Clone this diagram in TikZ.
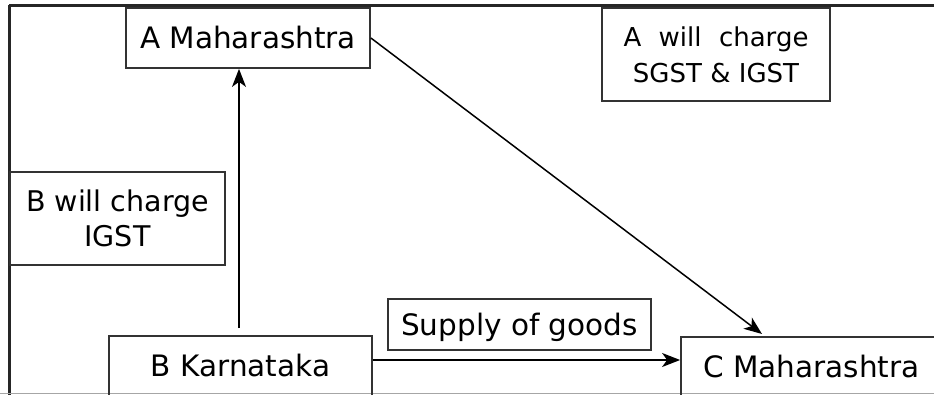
\documentclass[tikz,border=0pt]{standalone}
\usepackage{fontspec}
\setmainfont{DejaVu Sans}
\usetikzlibrary{arrows.meta}
\begin{document}
\begin{tikzpicture}[x=1pt,y=-1pt,
  box/.style={draw=black!80, line width=1.8pt, inner sep=0pt,
    font=\fontsize{29.5}{34}\selectfont, text height=21.5pt, text depth=0pt},
  notebox/.style={draw=black!80, line width=1.8pt, inner sep=0pt, align=center},
  arr/.style={line width=1.5pt, black, -{Stealth[length=18pt,width=14pt,inset=5pt]}},
  frame/.style={line width=3pt, black!85}]
\clip (0,0) rectangle (934,395);
\useasboundingbox (0,0) rectangle (934,395);
% outer frame
\draw[frame] (9,5.5) -- (940,5.5);
\draw[frame] (9,5.5) -- (9,400);
\draw[line width=1.2pt, black!35] (0,393.5) -- (940,393.5);
% nodes
\node[box, minimum width=244pt, minimum height=60pt] (A) at (248,38) {A Maharashtra};
\node[notebox, minimum width=228pt, minimum height=93pt,
  font=\fontsize{26}{36}\selectfont] (Anote) at (716,54.5)
  {A\hspace{0.35em} will\hspace{0.35em} charge\\SGST \& IGST};
\node[notebox, minimum width=215pt, minimum height=93pt,
  font=\fontsize{28.5}{35}\selectfont] (Bnote) at (117.5,218.5)
  {B will charge\\IGST};
\node[box, minimum width=263pt, minimum height=60pt] (B) at (240.5,366) {B Karnataka};
\node[box, minimum width=263pt, minimum height=51pt] (S) at (519.5,324.5) {Supply of goods};
\node[box, minimum width=261pt, minimum height=59pt] (C) at (811.5,366.5) {C Maharashtra};
% connectors
\coordinate (bstart) at (239,328);
\coordinate (ctip) at (762,334);
\draw[arr] (bstart) -- (bstart |- A.south);
\draw[arr] (A.east) -- (ctip);
\draw[arr] ([yshift=6pt]B.east) -- ([yshift=6.5pt]C.west);
\end{tikzpicture}
\end{document}
